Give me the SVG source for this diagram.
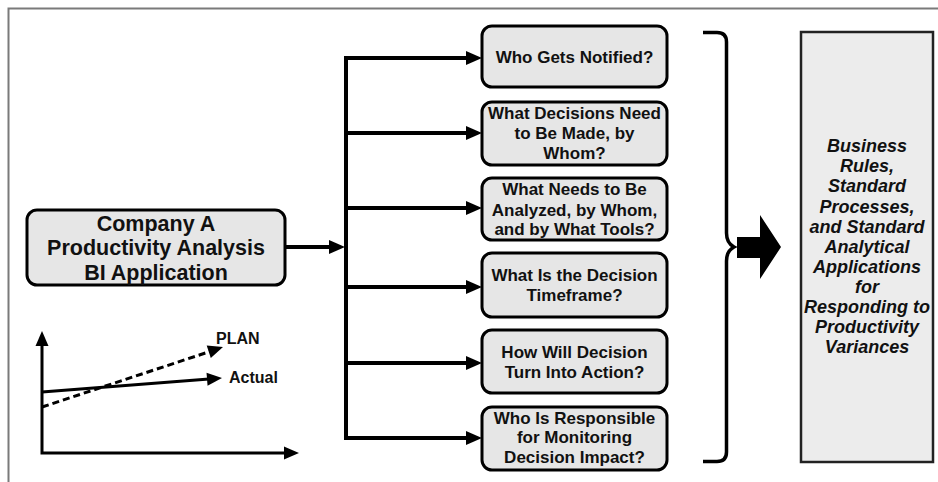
<svg xmlns="http://www.w3.org/2000/svg" width="938" height="482" viewBox="0 0 938 482">
  <style>
    .frame { fill: none; stroke: #7a7a7a; stroke-width: 2; }
    .node rect { fill: #e6e6e6; stroke: #000; stroke-width: 3; }
    .node text { font-family: "Liberation Sans", Arial, sans-serif; font-weight: bold; fill: #111; text-anchor: middle; }
    .q text { font-size: 17px; }
    .wire { fill: none; stroke: #000; stroke-width: 4; }
    .head { fill: #000; }
    .chart-line { fill: none; stroke: #000; stroke-width: 3; }
    .chart-label { font-family: "Liberation Sans", Arial, sans-serif; font-weight: bold; font-size: 16px; fill: #111; }
    .outcome text { font-style: italic; font-size: 18px; }
  </style>
  <defs>
    <path id="tip" d="M0,0 L-16,-7 L-16,7 Z"/>
    <path id="tipSmall" d="M0,0 L-15,-6.5 L-15,6.5 Z"/>
  </defs>

  <rect width="938" height="482" fill="#fff"/>
  <path class="frame" d="M8.5,482 V8.5 H938"/>

  <!-- source application -->
  <g id="company-app" class="node">
    <rect x="27" y="210" width="258" height="75" rx="10"/>
    <text x="156" y="230.5" font-size="21.5">Company A</text>
    <text x="156" y="255" font-size="21.5">Productivity Analysis</text>
    <text x="156" y="280" font-size="21.5">BI Application</text>
  </g>

  <!-- connectors fanning out to the questions -->
  <g id="connectors">
    <line class="wire" x1="285" y1="247" x2="332" y2="247"/>
    <use href="#tip" class="head" x="345" y="247"/>
    <path class="wire" d="M468,58 H346 V438 H468" stroke-linejoin="miter"/>
    <line class="wire" x1="346" y1="133" x2="468" y2="133"/>
    <line class="wire" x1="346" y1="208" x2="468" y2="208"/>
    <line class="wire" x1="346" y1="287" x2="468" y2="287"/>
    <line class="wire" x1="346" y1="363" x2="468" y2="363"/>
    <use href="#tip" class="head" x="482" y="58"/>
    <use href="#tip" class="head" x="482" y="133"/>
    <use href="#tip" class="head" x="482" y="208"/>
    <use href="#tip" class="head" x="482" y="287"/>
    <use href="#tip" class="head" x="482" y="363"/>
    <use href="#tip" class="head" x="482" y="438"/>

    <!-- brace gathering the questions -->
    <path d="M703,32.5 H717 Q726.5,32.5 726.5,42 V233 Q726.5,243 734,247 Q726.5,251 726.5,261 V452 Q726.5,461.5 717,461.5 H703" fill="none" stroke="#000" stroke-width="3.5"/>
    <!-- block arrow -->
    <path d="M737,237 H760 V215 L781,247 L760,279 V258 H737 Z" fill="#000"/>
  </g>

  <!-- questions -->
  <g id="q-notified" class="node q">
    <rect x="482" y="26" width="185" height="61" rx="10"/>
    <text x="574.5" y="63">Who Gets Notified?</text>
  </g>
  <g id="q-decisions" class="node q">
    <rect x="482" y="102" width="185" height="63" rx="10"/>
    <text x="574.5" y="119">What Decisions Need</text>
    <text x="574.5" y="139">to Be Made, by</text>
    <text x="574.5" y="159">Whom?</text>
  </g>
  <g id="q-analyzed" class="node q">
    <rect x="482" y="178" width="185" height="62" rx="10"/>
    <text x="574.5" y="195">What Needs to Be</text>
    <text x="574.5" y="215.5">Analyzed, by Whom,</text>
    <text x="574.5" y="235">and by What Tools?</text>
  </g>
  <g id="q-timeframe" class="node q">
    <rect x="482" y="253" width="185" height="64" rx="10"/>
    <text x="574.5" y="281">What Is the Decision</text>
    <text x="574.5" y="301">Timeframe?</text>
  </g>
  <g id="q-action" class="node q">
    <rect x="482" y="330" width="185" height="63" rx="10"/>
    <text x="574.5" y="358">How Will Decision</text>
    <text x="574.5" y="378">Turn Into Action?</text>
  </g>
  <g id="q-monitoring" class="node q">
    <rect x="482" y="407" width="185" height="63" rx="10"/>
    <text x="574.5" y="424">Who Is Responsible</text>
    <text x="574.5" y="443">for Monitoring</text>
    <text x="574.5" y="463">Decision Impact?</text>
  </g>

  <!-- resulting rules and processes -->
  <g id="outcome" class="node outcome">
    <rect x="801" y="32" width="132" height="430" style="fill:#ececec;stroke:#222;stroke-width:2.5"/>
    <text x="867" y="152">Business</text>
    <text x="867" y="172">Rules,</text>
    <text x="867" y="192">Standard</text>
    <text x="867" y="212.5">Processes,</text>
    <text x="867" y="232.5">and Standard</text>
    <text x="867" y="252.5">Analytical</text>
    <text x="867" y="272.5">Applications</text>
    <text x="867" y="292.5">for</text>
    <text x="867" y="312.5">Responding to</text>
    <text x="867" y="332.5">Productivity</text>
    <text x="867" y="353">Variances</text>
  </g>

  <!-- plan vs actual sketch -->
  <g id="chart">
    <path class="chart-line" d="M42,345 V453 H286"/>
    <use href="#tipSmall" class="head" transform="translate(42,331) rotate(-90)"/>
    <use href="#tipSmall" class="head" x="299" y="453"/>
    <line class="chart-line" x1="42" y1="392" x2="209" y2="379"/>
    <use href="#tipSmall" class="head" transform="translate(222,378) rotate(-4.5)"/>
    <line class="chart-line" x1="42" y1="407" x2="210" y2="351.5" stroke-dasharray="7,4"/>
    <use href="#tipSmall" class="head" transform="translate(223,347) rotate(-18.3)"/>
    <text class="chart-label" x="216" y="344">PLAN</text>
    <text class="chart-label" x="229" y="383">Actual</text>
  </g>
</svg>
